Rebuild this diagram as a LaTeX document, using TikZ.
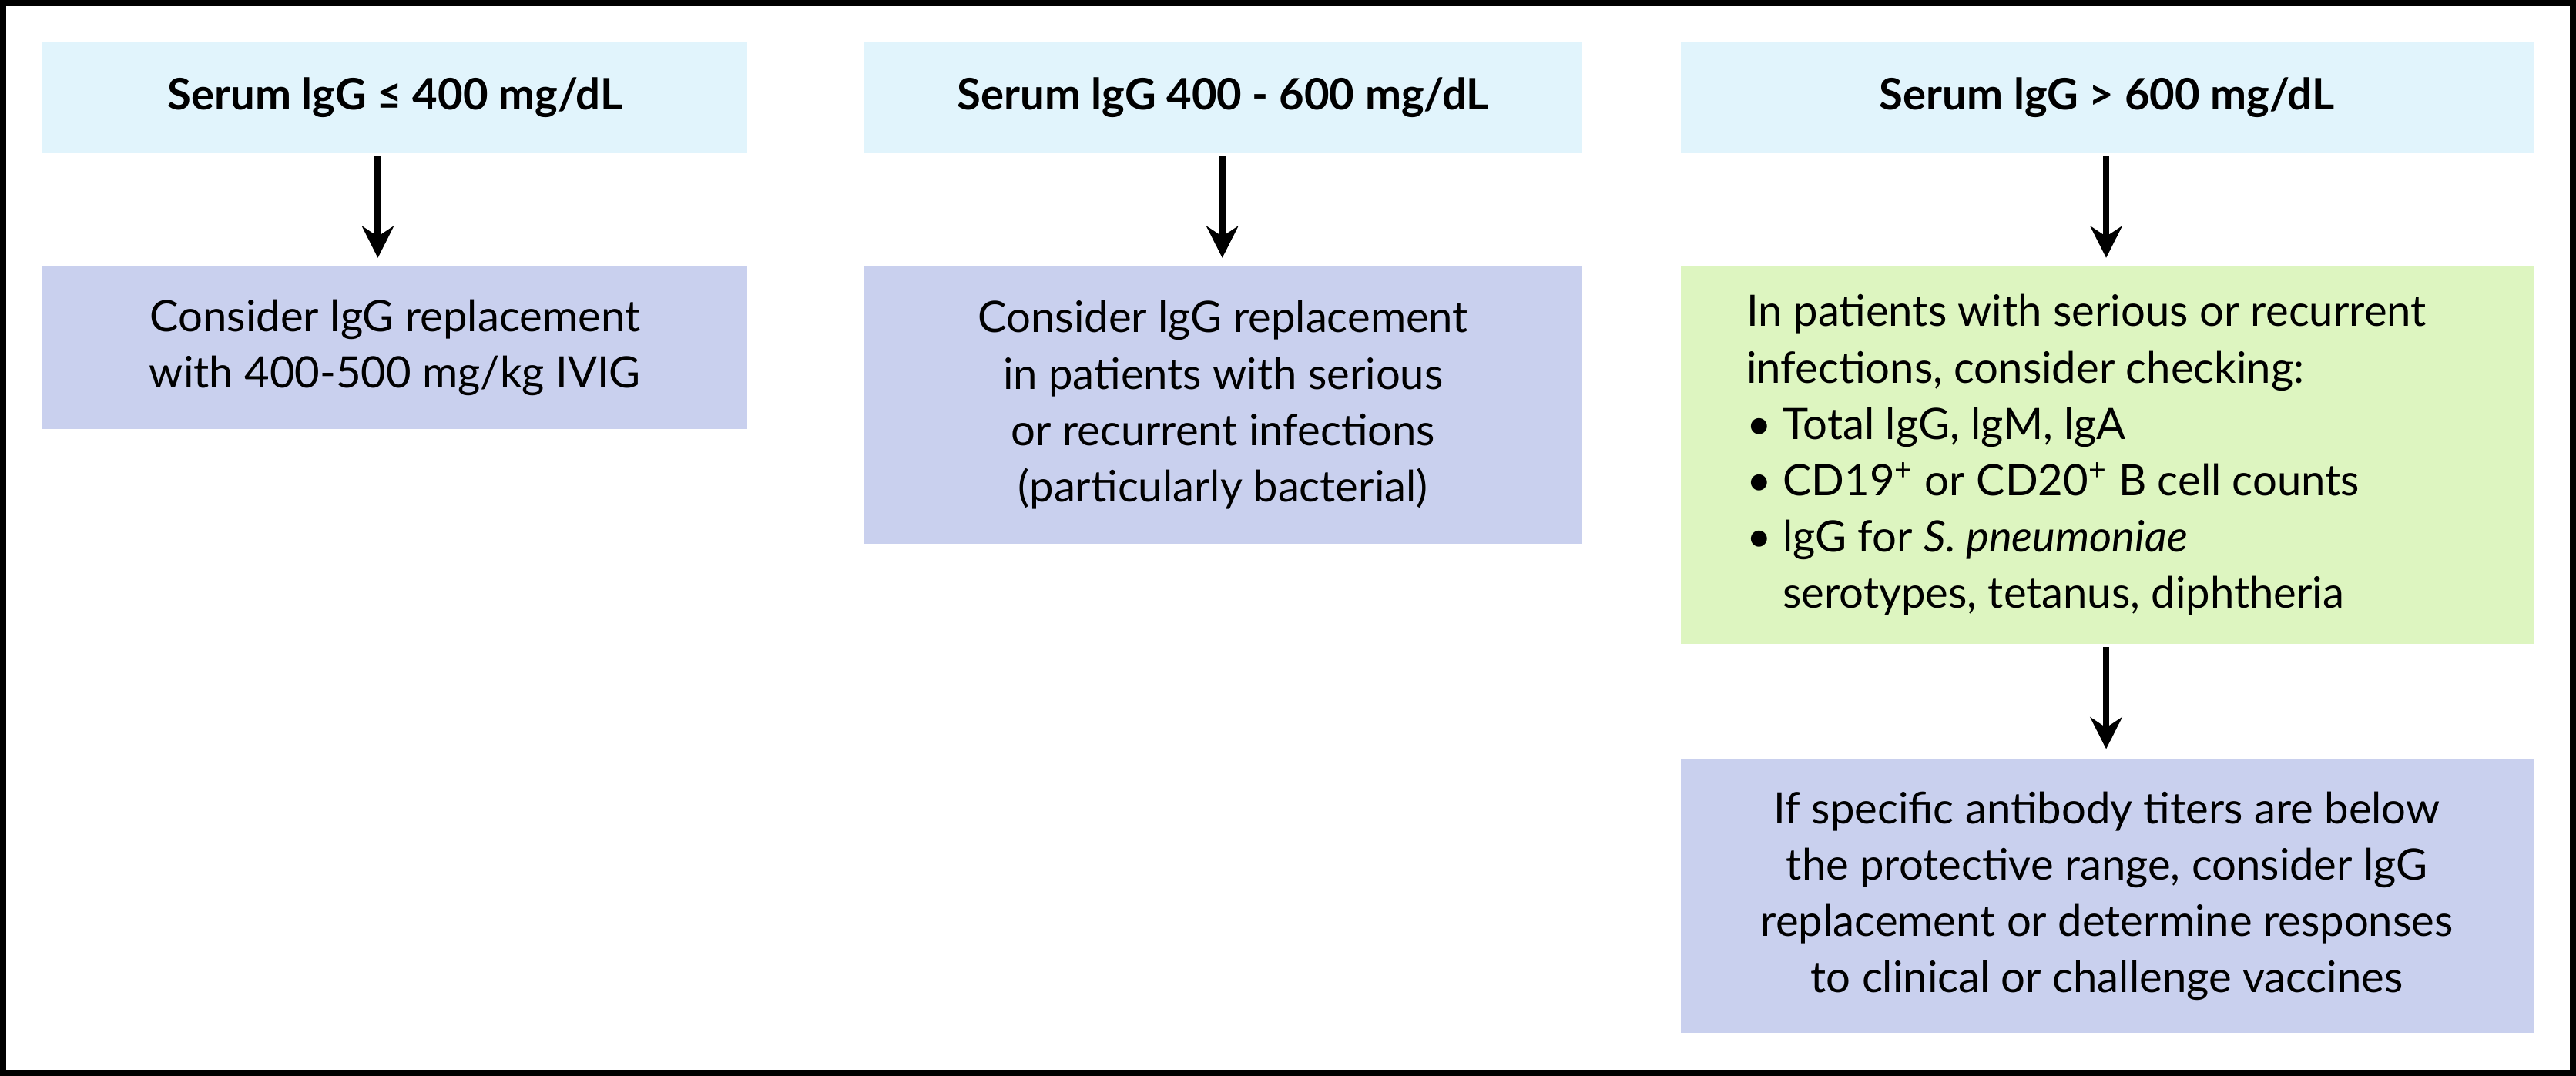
\documentclass[tikz,border=0pt]{standalone}
\usepackage{fontspec}
\setmainfont{Lato}
\usetikzlibrary{arrows.meta}
\definecolor{hdr}{HTML}{E1F4FC}
\definecolor{lav}{HTML}{C9D0EE}
\definecolor{grn}{HTML}{DDF5C0}
\tikzset{
 box/.style={inner sep=0pt, font=\fontsize{15}{19.5}\selectfont, align=center},
 arr/.style={line width=2.2pt, -{Stealth[length=11pt,width=11pt]}}
}
\begin{document}
\begin{tikzpicture}[x=0.02cm,y=-0.02cm]
\useasboundingbox (0,0) rectangle (1568,655);
\draw[line width=2.5pt] (1.5,1.5) rectangle (1566.5,653.5);
% header boxes
\fill[hdr] (26,26) rectangle (455,93);
\fill[hdr] (526,26) rectangle (963,93);
\fill[hdr] (1023,26) rectangle (1542,93);
\node[box,font=\fontsize{15}{19}\selectfont\bfseries] (h1) at (240.5,59.5) {Serum lgG ≤ 400 mg/dL};
\node[box,font=\fontsize{15}{19}\selectfont\bfseries] (h2) at (744.5,59.5) {Serum lgG 400 - 600 mg/dL};
\node[box,font=\fontsize{15}{19}\selectfont\bfseries] (h3) at (1282.5,59.5) {Serum lgG > 600 mg/dL};
\coordinate (h1b) at (230,93); \coordinate (h2b) at (744,93); \coordinate (h3b) at (1282,93);
% boxes
\fill[lav] (26,162) rectangle (455,261);
\fill[lav] (526,162) rectangle (963,331);
\fill[grn] (1023,162) rectangle (1542,392);
\fill[lav] (1023,462) rectangle (1542,629);
\node[box] (b1) at (240.5,211.5) {Consider lgG replacement\\with 400-500 mg/kg IVIG};
\node[box] (b2) at (744.5,246.5) {Consider lgG replacement\\in patients with serious\\or recurrent infections\\(particularly bacterial)};
\node[box,align=left] (b3) at (1270,277) {In patients with serious or recurrent\\infections, consider checking:\\\textbullet\ Total lgG, lgM, lgA\\\textbullet\ CD19\textsuperscript{+} or CD20\textsuperscript{+} B cell counts\\\textbullet\ lgG for \textit{S. pneumoniae}\\\phantom{\textbullet\ }serotypes, tetanus, diphtheria};
\node[box] (b4) at (1282.5,545.5) {If specific antibody titers are below\\the protective range, consider lgG\\replacement or determine responses\\to clinical or challenge vaccines};
\coordinate (b1t) at (230,157); \coordinate (b2t) at (744,157); \coordinate (b3t) at (1282,157);
\coordinate (b3b) at (1282,392); \coordinate (b4t) at (1282,456);
\draw[arr] (h1b) ++(0,2) -- (b1t);
\draw[arr] (h2b) ++(0,2) -- (b2t);
\draw[arr] (h3b) ++(0,2) -- (b3t);
\draw[arr] (b3b) ++(0,2) -- (b4t);
\end{tikzpicture}
\end{document}
